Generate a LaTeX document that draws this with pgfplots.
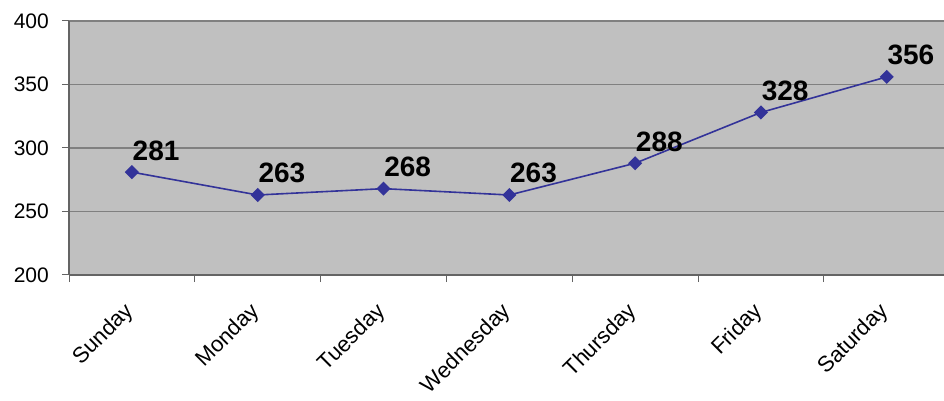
\documentclass[border=0pt]{standalone}
\usepackage{fontspec}
\setmainfont{Liberation Sans}
\usepackage{pgfplots}
\pgfplotsset{compat=1.18}
\definecolor{bg}{RGB}{192,192,192}
\definecolor{gridc}{RGB}{128,128,128}
\definecolor{axc}{RGB}{100,100,100}
\definecolor{ln}{RGB}{51,51,153}
\pgfplotsset{/pgf/number format/assume math mode=true}
\begin{document}
\begin{tikzpicture}[x=1pt,y=1pt]
\path[use as bounding box] (0,0) rectangle (944,401);
\begin{axis}[
  at={(69pt,126pt)}, anchor=south west,
  scale only axis, width=875pt, height=254pt,
  xmin=-0.5, xmax=6.455, ymin=200, ymax=400,
  axis lines=left,
  axis line style={draw=axc, line width=1.3pt, -},
  axis background/.style={fill=bg},
  ytick={200,250,...,400},
  ymajorgrids, grid style={draw=gridc, line width=1.4pt},
  xtick={0,...,6},
  xticklabels={Sunday,Monday,Tuesday,Wednesday,Thursday,Friday,Saturday},
  minor xtick={-0.5,0.5,...,5.5},
  major x tick style={draw=none},
  tick align=outside, major tick length=7pt, minor tick length=7pt,
  every tick/.style={draw=axc, line width=1pt},
  minor tick style={draw=axc, line width=1pt},
  yticklabel style={font=\fontsize{21}{21}\selectfont, anchor=east, inner sep=0pt, xshift=-13pt},
  xticklabel style={font=\fontsize{22}{22}\selectfont, xshift=-9pt, yshift=-19pt, rotate=45, anchor=north east, inner sep=0pt},
  clip=false,
]
\addplot[color=ln, line width=1.6pt, mark=square*, mark size=4.2pt,
  mark options={rotate=45, fill=ln, draw=ln},
  nodes near coords, point meta=explicit symbolic,
  nodes near coords style={anchor=south west, inner sep=0pt, text=black,
    font=\bfseries\fontsize{28}{28}\selectfont, xshift=0pt, yshift=11pt}]
  coordinates {
    (0,281) [281]
    (1,263) [263]
    (2,268) [268]
    (3,263) [263]
    (4,288) [288]
    (5,328) [328]
    (6,356) [356]
  };
\end{axis}
\end{tikzpicture}
\end{document}
